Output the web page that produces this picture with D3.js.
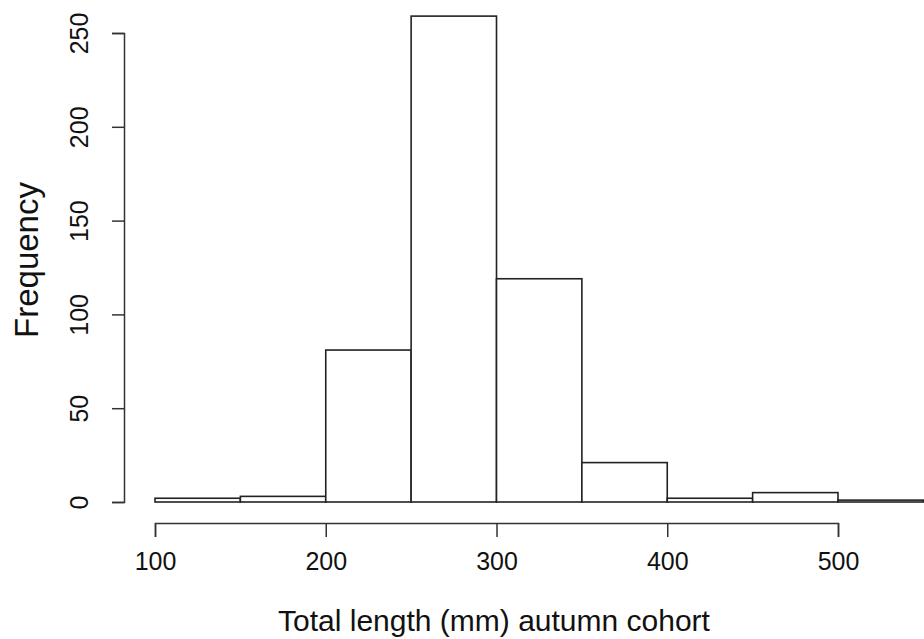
<!DOCTYPE html>
<html>
<head>
<meta charset="utf-8">
<script src="https://cdn.jsdelivr.net/npm/d3@7"></script>
<style>
  html, body { margin: 0; padding: 0; background: #fff; }
  svg { display: block; }
  text { font-family: "Liberation Sans", Arial, sans-serif; fill: #111; }
</style>
</head>
<body>
<svg id="chart" width="924" height="639"></svg>
<script>
const binStarts = [100, 150, 200, 250, 300, 350, 400, 450, 500];
const binWidth = 50;
const counts = [2, 3, 81, 259, 119, 21, 2, 5, 1];
const xTicks = [100, 200, 300, 400, 500];
const yTicks = [0, 50, 100, 150, 200, 250];
const xTitle = "Total length (mm) autumn cohort";
const yTitle = "Frequency";

const svg = d3.select("#chart");
const x = d3.scaleLinear().domain([100, 500]).range([155, 838]);
const y = d3.scaleLinear().domain([0, 250]).range([502, 33]);

// bars
svg.append("g").selectAll("rect")
  .data(binStarts.map((s, i) => ({ s, c: counts[i] })))
  .join("rect")
  .attr("x", d => x(d.s))
  .attr("width", d => x(d.s + binWidth) - x(d.s))
  .attr("y", d => y(d.c))
  .attr("height", d => y(0) - y(d.c))
  .attr("fill", "#fff")
  .attr("stroke", "#222")
  .attr("stroke-width", 1.6);

// x axis
const xAxis = svg.append("g").attr("transform", "translate(0,523)")
  .call(d3.axisBottom(x).tickValues(xTicks).tickSize(14).tickPadding(15).tickFormat(d3.format("d")));
xAxis.select(".domain").attr("stroke", "#333").attr("stroke-width", 1.5);
xAxis.selectAll(".tick line").attr("stroke", "#333").attr("stroke-width", 1.5);
xAxis.selectAll(".tick text").attr("font-size", 25).attr("fill", "#111")
  .attr("font-family", "Liberation Sans, Arial, sans-serif");

// y axis
const yAxis = svg.append("g").attr("transform", "translate(124,0)")
  .call(d3.axisLeft(y).tickValues(yTicks).tickSize(12).tickFormat(d3.format("d")));
yAxis.select(".domain").attr("stroke", "#333").attr("stroke-width", 1.5);
yAxis.selectAll(".tick line").attr("stroke", "#333").attr("stroke-width", 1.5);
yAxis.selectAll(".tick text")
  .attr("font-size", 25).attr("fill", "#111")
  .attr("font-family", "Liberation Sans, Arial, sans-serif")
  .attr("text-anchor", "middle")
  .attr("dy", 0)
  .attr("x", 0)
  .attr("transform", "translate(-36,0) rotate(-90)");

// titles
svg.append("text")
  .attr("x", 494).attr("y", 631)
  .attr("text-anchor", "middle")
  .attr("font-size", 30)
  .text(xTitle);

svg.append("text")
  .attr("transform", "translate(38,260) rotate(-90)")
  .attr("text-anchor", "middle")
  .attr("font-size", 33)
  .text(yTitle);
</script>
</body>
</html>
